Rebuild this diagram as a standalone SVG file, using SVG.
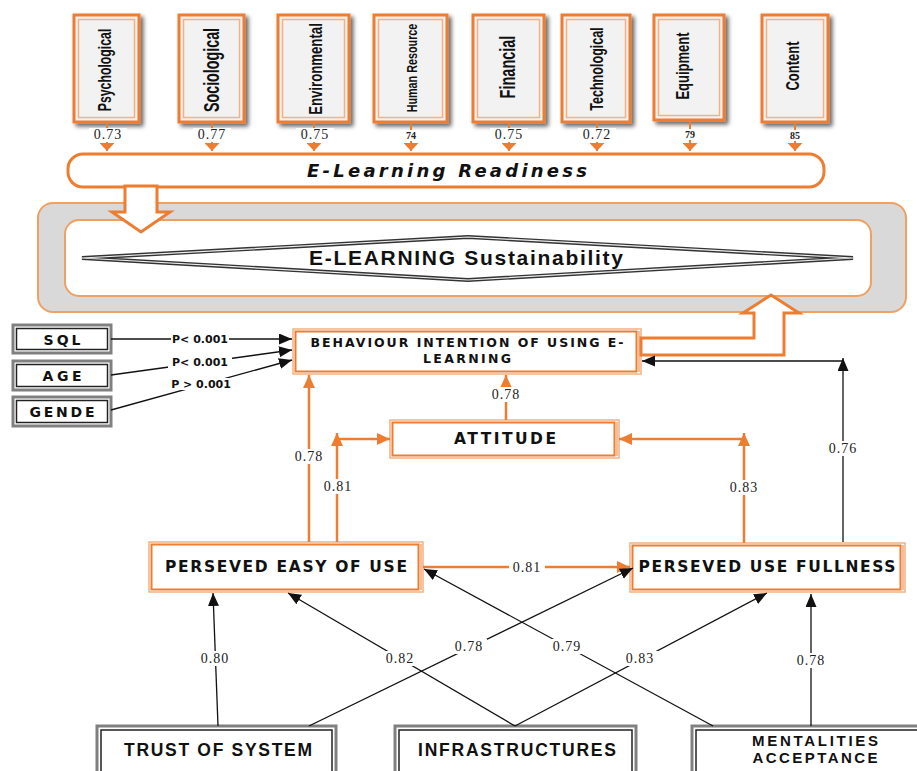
<svg xmlns="http://www.w3.org/2000/svg" width="917" height="771" viewBox="0 0 917 771">
<defs>
<filter id="sh" x="-20%" y="-20%" width="150%" height="150%"><feDropShadow dx="3" dy="3" stdDeviation="2" flood-color="#000" flood-opacity="0.6"/></filter>
<marker id="ao" markerUnits="userSpaceOnUse" markerWidth="14" markerHeight="14" refX="13" refY="6" orient="auto"><path d="M0,0 L13,6 L0,12 z" fill="#ED7D31"/></marker>
<marker id="ab" markerUnits="userSpaceOnUse" markerWidth="14" markerHeight="12" refX="13" refY="5.5" orient="auto"><path d="M0,0 L13,5.5 L0,11 z" fill="#111"/></marker>
<marker id="at" markerUnits="userSpaceOnUse" markerWidth="16" markerHeight="10" refX="7.5" refY="8" orient="0"><path d="M0,0 L15,0 L7.5,8 z" fill="#ED7D31"/></marker>
</defs>
<style>
.tb{fill:#f2f2f2;stroke:#ED7D31;stroke-width:3}
.tbi{fill:none;stroke:#F4B183;stroke-width:1.5}
.tt{font-family:"Liberation Sans",Arial,sans-serif;font-weight:bold;fill:#111;text-anchor:middle}
.num{font-family:"Liberation Serif","Times New Roman",serif;font-size:14px;letter-spacing:1px;fill:#222;text-anchor:middle}
.numb{font-family:"Liberation Serif","Times New Roman",serif;font-size:10px;font-weight:bold;fill:#222;text-anchor:middle}
.lb{fill:#fff}
.lbl{font-family:"DejaVu Sans",Verdana,sans-serif;font-weight:bold;fill:#111;text-anchor:middle}
.lbc{font-family:"Liberation Sans",Arial,sans-serif;font-weight:bold;fill:#111;text-anchor:middle}
.plbl{font-family:"DejaVu Sans",Verdana,sans-serif;font-weight:bold;font-size:11px;fill:#111;text-anchor:middle}
.ob{fill:#fff;stroke:#F4B183;stroke-width:1.5}
.obi{fill:none;stroke:#ED7D31;stroke-width:2}
.gb{fill:#fff;stroke:#808080;stroke-width:3}
.gbi{fill:none;stroke:#222;stroke-width:1.5}
.stub{stroke:#ED7D31;stroke-width:2}
.oc{fill:none;stroke:#ED7D31;stroke-width:2.5}
.bc{fill:none;stroke:#111;stroke-width:1.3}
</style>

<!-- top factor boxes -->
<g id="psychological"><rect class="tb" x="74" y="15" width="65" height="107" filter="url(#sh)"/><rect class="tbi" x="78.5" y="19.5" width="56" height="98"/><text class="tt" font-size="12.3" transform="translate(111,70) rotate(-90) scale(1,1.46)">Psychological</text></g>
<g id="sociological"><rect class="tb" x="179" y="15" width="65" height="107" filter="url(#sh)"/><rect class="tbi" x="183.5" y="19.5" width="56" height="98"/><text class="tt" font-size="14.3" transform="translate(219,70) rotate(-90) scale(1,1.54)">Sociological</text></g>
<g id="environmental"><rect class="tb" x="278" y="15" width="71" height="107" filter="url(#sh)"/><rect class="tbi" x="282.5" y="19.5" width="62" height="98"/><text class="tt" font-size="13.2" transform="translate(322,69) rotate(-90) scale(1,1.44)">Environmental</text></g>
<g id="human-resource"><rect class="tb" x="374" y="15" width="73" height="107" filter="url(#sh)"/><rect class="tbi" x="378.5" y="19.5" width="64" height="98"/><text class="tt" font-size="10.8" transform="translate(417,68) rotate(-90) scale(1,1.39)">Human Resource</text></g>
<g id="financial"><rect class="tb" x="473" y="15" width="71" height="107" filter="url(#sh)"/><rect class="tbi" x="477.5" y="19.5" width="62" height="98"/><text class="tt" font-size="14.5" transform="translate(515,67) rotate(-90) scale(1,1.52)">Financial</text></g>
<g id="technological"><rect class="tb" x="562" y="15" width="68" height="107" filter="url(#sh)"/><rect class="tbi" x="566.5" y="19.5" width="59" height="98"/><text class="tt" font-size="12.6" transform="translate(603,69) rotate(-90) scale(1,1.43)">Technological</text></g>
<g id="equipment"><rect class="tb" x="654" y="15" width="70" height="105" filter="url(#sh)"/><rect class="tbi" x="658.5" y="19.5" width="61" height="96"/><text class="tt" font-size="13" transform="translate(689,66) rotate(-90) scale(1,1.38)">Equipment</text></g>
<g id="content"><rect class="tb" x="762" y="15" width="66" height="107" filter="url(#sh)"/><rect class="tbi" x="766.5" y="19.5" width="57" height="98"/><text class="tt" font-size="13" transform="translate(799,66) rotate(-90) scale(1,1.46)">Content</text></g>

<!-- readiness bar -->
<g id="readiness"><rect x="68" y="154" width="756" height="33" rx="15" fill="#fff" stroke="#ED7D31" stroke-width="3"/><text class="lbl" x="447" y="177" font-size="18" font-style="italic" textLength="280">E-Learning Readiness</text></g>

<!-- sustainability -->
<g id="sustainability">
<rect x="38" y="203" width="868" height="109" rx="15" fill="#d9d9d9" stroke="#F0A060" stroke-width="2"/>
<rect x="65" y="220" width="806" height="76" rx="14" fill="#fff" stroke="#F0A060" stroke-width="2"/>
<polygon points="82,258 468,237 853,258 468,280" fill="#fff" stroke="#333" stroke-width="4"/>
<polygon points="82,258 468,237 853,258 468,280" fill="none" stroke="#eee" stroke-width="1.2"/>
<text class="lbc" x="466" y="265" font-size="21" textLength="314">E-LEARNING Sustainability</text>
</g>

<!-- left controls -->
<g id="sql"><rect class="gb" x="13" y="325" width="98" height="28"/><rect class="gbi" x="16.5" y="328.5" width="91" height="21"/><text class="lbl" x="62" y="344.5" font-size="14" textLength="37">SQL</text></g>
<g id="age"><rect class="gb" x="13" y="361" width="98" height="29"/><rect class="gbi" x="16.5" y="364.5" width="91" height="22"/><text class="lbl" x="62" y="380.5" font-size="14" textLength="39">AGE</text></g>
<g id="gende"><rect class="gb" x="13" y="397" width="98" height="29"/><rect class="gbi" x="16.5" y="400.5" width="91" height="22"/><text class="lbl" x="62" y="416.5" font-size="14" textLength="65">GENDE</text></g>

<!-- behaviour intention -->
<g id="behaviour-intention"><rect class="ob" x="293" y="329" width="348" height="45"/><rect class="obi" x="295.5" y="331.5" width="341" height="40"/><line x1="639" y1="331" x2="639" y2="372" stroke="#ED7D31" stroke-width="1"/>
<text class="lbl" x="467" y="347" font-size="12.5" textLength="313">BEHAVIOUR INTENTION OF USING E-</text>
<text class="lbl" x="467" y="363" font-size="12.5" textLength="88">LEARNING</text></g>

<!-- attitude -->
<g id="attitude"><rect class="ob" x="390" y="420" width="229" height="38"/><rect class="obi" x="392.5" y="422.5" width="222" height="33"/><line x1="617" y1="422" x2="617" y2="456" stroke="#ED7D31" stroke-width="1"/><text class="lbl" x="505" y="444" font-size="15.5" textLength="102">ATTITUDE</text></g>

<!-- perceived -->
<g id="peou"><rect class="ob" x="149" y="542" width="274" height="50"/><rect class="obi" x="151.5" y="544.5" width="267" height="45"/><line x1="421" y1="544" x2="421" y2="590" stroke="#ED7D31" stroke-width="1"/><text class="lbl" x="286" y="572" font-size="15.5" textLength="242">PERSEVED EASY OF USE</text></g>
<g id="puf"><rect class="ob" x="630" y="543" width="275" height="49"/><rect class="obi" x="632.5" y="545.5" width="268" height="44"/><line x1="903" y1="545" x2="903" y2="590" stroke="#ED7D31" stroke-width="1"/><text class="lbl" x="767" y="572" font-size="15.5" textLength="257">PERSEVED USE FULLNESS</text></g>

<!-- bottom boxes -->
<g id="trust"><rect class="gb" x="97" y="726" width="239" height="60"/><rect class="gbi" x="101" y="730" width="231" height="52"/><text class="lbc" x="218" y="756" font-size="17.5" textLength="188">TRUST OF SYSTEM</text></g>
<g id="infrastructures"><rect class="gb" x="395" y="726" width="241" height="60"/><rect class="gbi" x="399" y="730" width="233" height="52"/><text class="lbc" x="517" y="756" font-size="17.5" textLength="198">INFRASTRUCTURES</text></g>
<g id="mentalities"><rect class="gb" x="692" y="726" width="240" height="60"/><rect class="gbi" x="696" y="730" width="232" height="52"/><text class="lbc" x="815" y="746" font-size="15" textLength="126">MENTALITIES</text><text class="lbc" x="815" y="763" font-size="15" textLength="125">ACCEPTANCE</text></g>

<g id="connectors">
<!-- top stubs -->
<line class="stub" x1="107" y1="122" x2="107" y2="151" marker-end="url(#at)"/>
<line class="stub" x1="212" y1="122" x2="212" y2="151" marker-end="url(#at)"/>
<line class="stub" x1="314" y1="122" x2="314" y2="151" marker-end="url(#at)"/>
<line class="stub" x1="411" y1="122" x2="411" y2="151" marker-end="url(#at)"/>
<line class="stub" x1="509" y1="122" x2="509" y2="151" marker-end="url(#at)"/>
<line class="stub" x1="597" y1="122" x2="597" y2="151" marker-end="url(#at)"/>
<line class="stub" x1="690" y1="120" x2="690" y2="151" marker-end="url(#at)"/>
<line class="stub" x1="795" y1="122" x2="795" y2="151" marker-end="url(#at)"/>
<rect class="lb" x="89" y="128" width="38" height="14"/><text class="num" x="108" y="139" font-size="13">0.73</text>
<rect class="lb" x="193" y="128" width="38" height="14"/><text class="num" x="212" y="139" font-size="13">0.77</text>
<rect class="lb" x="296" y="128" width="38" height="14"/><text class="num" x="315" y="139" font-size="13">0.75</text>
<rect class="lb" x="402" y="130" width="18" height="11"/><text class="numb" x="411" y="139">74</text>
<rect class="lb" x="490" y="128" width="38" height="14"/><text class="num" x="509" y="139" font-size="13">0.75</text>
<rect class="lb" x="578" y="128" width="38" height="14"/><text class="num" x="597" y="139" font-size="13">0.72</text>
<rect class="lb" x="681" y="129" width="18" height="11"/><text class="numb" x="690" y="138">79</text>
<rect class="lb" x="786" y="130" width="18" height="11"/><text class="numb" x="795" y="139">85</text>

<!-- block arrows -->
<polygon points="125,186 125,212 112,212 141,232 170,212 157,212 157,186" fill="#fff" stroke="#ED7D31" stroke-width="3"/>
<polygon points="641,338 754,338 754,313 743,313 771,295 799,313 784,313 784,355 641,355" fill="#fff" stroke="#ED7D31" stroke-width="3"/>

<!-- orange connectors -->
<line class="oc" x1="309" y1="542" x2="309" y2="375" marker-end="url(#ao)"/>
<line class="oc" x1="337" y1="542" x2="337" y2="433" marker-end="url(#ao)"/>
<line class="oc" x1="337" y1="439" x2="390" y2="439" marker-end="url(#ao)"/>
<line class="oc" x1="744" y1="543" x2="744" y2="433" marker-end="url(#ao)"/>
<line class="oc" x1="744" y1="439" x2="619" y2="439" marker-end="url(#ao)"/>
<line class="oc" x1="506" y1="420" x2="506" y2="375" marker-end="url(#ao)"/>
<line class="oc" x1="423" y1="567" x2="630" y2="567" marker-end="url(#ao)"/>

<!-- black connectors -->
<line class="bc" x1="843" y1="542" x2="843" y2="358" marker-end="url(#ab)"/>
<line class="bc" x1="843" y1="361" x2="642" y2="361" marker-end="url(#ab)"/>
<line class="bc" x1="218" y1="726" x2="213" y2="593" marker-end="url(#ab)"/>
<line class="bc" x1="515" y1="726" x2="288" y2="593" marker-end="url(#ab)"/>
<line class="bc" x1="515" y1="726" x2="767" y2="593" marker-end="url(#ab)"/>
<line class="bc" x1="309" y1="726" x2="633" y2="568" marker-end="url(#ab)"/>
<line class="bc" x1="713" y1="726" x2="424" y2="569" marker-end="url(#ab)"/>
<line class="bc" x1="811" y1="726" x2="811" y2="594" marker-end="url(#ab)"/>
<line class="bc" x1="111" y1="339" x2="292" y2="339" marker-end="url(#ab)"/>
<line class="bc" x1="111" y1="375" x2="292" y2="350" marker-end="url(#ab)"/>
<line class="bc" x1="111" y1="410" x2="292" y2="360" marker-end="url(#ab)"/>

<!-- labels -->
<rect class="lb" x="171" y="333" width="58" height="12"/><text class="plbl" x="200" y="343">P&lt; 0.001</text>
<rect class="lb" x="168" y="356" width="64" height="12"/><text class="plbl" x="200" y="366">P&lt; 0.001</text>
<rect class="lb" x="167" y="378" width="68" height="12"/><text class="plbl" x="201" y="388">P &gt; 0.001</text>
<rect class="lb" x="488" y="387" width="36" height="15"/><text class="num" x="506" y="399">0.78</text>
<rect class="lb" x="291" y="449" width="36" height="15"/><text class="num" x="309" y="461">0.78</text>
<rect class="lb" x="320" y="479" width="36" height="15"/><text class="num" x="338" y="491">0.81</text>
<rect class="lb" x="726" y="480" width="36" height="15"/><text class="num" x="744" y="492">0.83</text>
<rect class="lb" x="825" y="441" width="36" height="15"/><text class="num" x="843" y="453">0.76</text>
<rect class="lb" x="509" y="560" width="36" height="15"/><text class="num" x="527" y="572">0.81</text>
<rect class="lb" x="197" y="651" width="36" height="15"/><text class="num" x="215" y="663">0.80</text>
<rect class="lb" x="382" y="651" width="36" height="15"/><text class="num" x="400" y="663">0.82</text>
<rect class="lb" x="451" y="639" width="36" height="15"/><text class="num" x="469" y="651">0.78</text>
<rect class="lb" x="549" y="639" width="36" height="15"/><text class="num" x="567" y="651">0.79</text>
<rect class="lb" x="622" y="651" width="36" height="15"/><text class="num" x="640" y="663">0.83</text>
<rect class="lb" x="793" y="653" width="36" height="15"/><text class="num" x="811" y="665">0.78</text>
</g>
</svg>
